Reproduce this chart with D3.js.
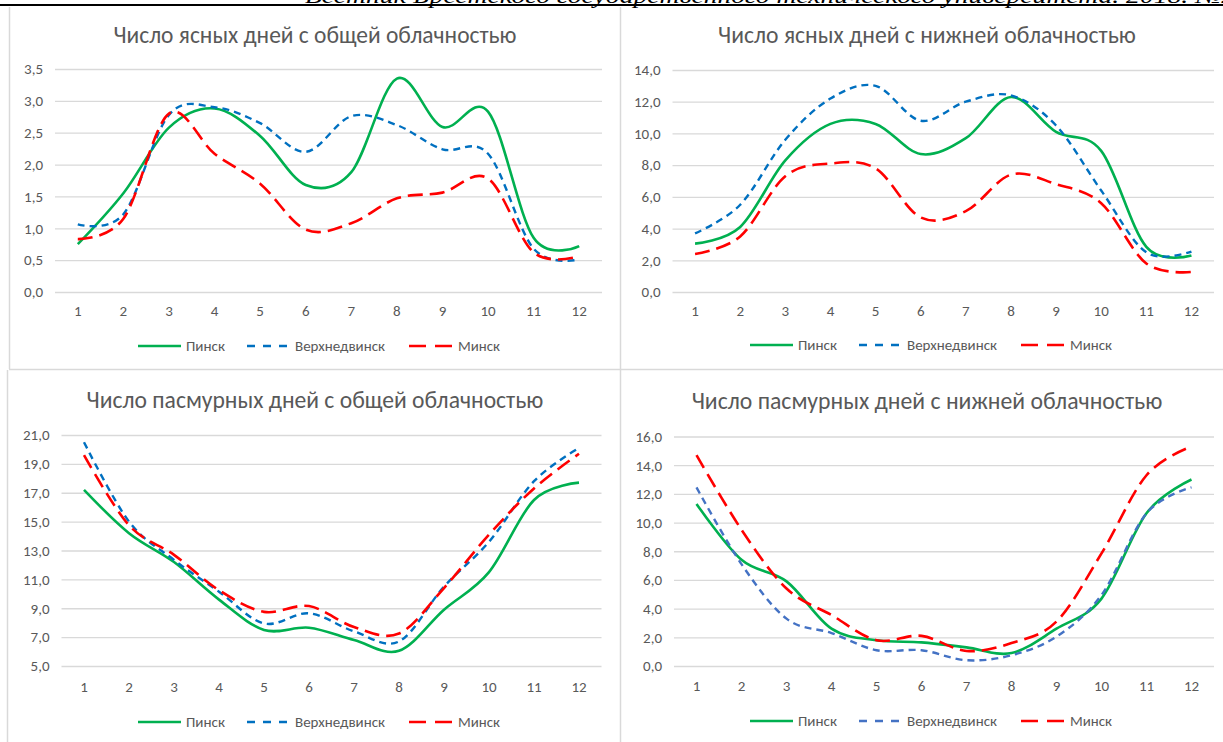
<!DOCTYPE html>
<html>
<head>
<meta charset="utf-8">
<script src="https://cdn.jsdelivr.net/npm/d3@7"></script>
<style>
  html, body { margin: 0; padding: 0; background: #ffffff; }
  svg { display: block; }
  text { font-family: Carlito, Calibri, Lato, "Open Sans", sans-serif; }
</style>
</head>
<body>
<svg id="chart" width="1223" height="742"></svg>
<script>
// ---- Data ----
const months = ["1","2","3","4","5","6","7","8","9","10","11","12"];
const seriesNames = ["Пинск", "Верхнедвинск", "Минск"];
const headerText = "Вестник Брестского государственного технического университета. 2018. №2";

const titles = [
  "Число ясных дней с общей облачностью",
  "Число ясных дней с нижней облачностью",
  "Число пасмурных дней с общей облачностью",
  "Число пасмурных дней с нижней облачностью"
];

// Panel 1: clear days, total cloudiness
const clearTotalPinsk = [0.75, 1.55, 2.58, 2.88, 2.45, 1.68, 1.88, 3.35, 2.59, 2.83, 0.85, 0.72];
const clearTotalVerkh = [1.06, 1.22, 2.78, 2.9, 2.65, 2.2, 2.76, 2.62, 2.24, 2.17, 0.68, 0.51];
const clearTotalMinsk = [0.83, 1.15, 2.8, 2.17, 1.7, 0.98, 1.08, 1.47, 1.56, 1.78, 0.62, 0.56];
const clearTotalTicks = [0, 0.5, 1, 1.5, 2, 2.5, 3, 3.5];

// Panel 2: clear days, low cloudiness
const clearLowPinsk = [3.05, 4.1, 8.3, 10.6, 10.6, 8.7, 9.7, 12.3, 10.1, 8.9, 2.85, 2.3];
const clearLowVerkh = [3.7, 5.5, 9.6, 12.2, 13.0, 10.8, 12.0, 12.4, 10.5, 6.4, 2.5, 2.55];
const clearLowMinsk = [2.4, 3.5, 7.3, 8.1, 7.8, 4.7, 5.1, 7.4, 6.8, 5.6, 1.8, 1.26];
const clearLowTicks = [0, 2, 4, 6, 8, 10, 12, 14];

// Panel 3: overcast days, total cloudiness
const overTotalPinsk = [17.2, 14.2, 12.2, 9.6, 7.5, 7.65, 6.8, 6.05, 8.9, 11.5, 16.5, 17.7];
const overTotalVerkh = [20.5, 15.0, 12.35, 10.15, 7.95, 8.65, 7.4, 6.7, 10.5, 13.6, 17.8, 20.1];
const overTotalMinsk = [19.6, 14.75, 12.7, 10.25, 8.75, 9.15, 7.7, 7.25, 10.4, 14.1, 17.3, 19.7];
const overTotalTicks = [5, 7, 9, 11, 13, 15, 17, 19, 21];

// Panel 4: overcast days, low cloudiness
const overLowPinsk = [11.3, 7.4, 5.9, 2.6, 1.8, 1.65, 1.3, 0.9, 2.6, 4.7, 10.65, 13.0];
const overLowVerkh = [12.45, 7.1, 3.3, 2.3, 1.1, 1.1, 0.4, 0.75, 2.05, 4.95, 10.65, 12.45];
const overLowMinsk = [14.7, 9.5, 5.4, 3.55, 1.8, 2.1, 1.05, 1.6, 3.1, 7.85, 13.3, 15.3];
const overLowTicks = [0, 2, 4, 6, 8, 10, 12, 14, 16];

// ---- Layout / style ----
const colors = {green: "#00B050", blue: "#0070C0", blue2: "#4472C4", red: "#FF0000"};
const panels = [
  {title: titles[0], series: [clearTotalPinsk, clearTotalVerkh, clearTotalMinsk], ticks: clearTotalTicks,
   x0: 55, x1: 602, yTop: 69, yBot: 292, cx: 315, ty: 35, titleW: 403, ly: 346, xl: 311, blue: colors.blue},
  {title: titles[1], series: [clearLowPinsk, clearLowVerkh, clearLowMinsk], ticks: clearLowTicks,
   x0: 672.5, x1: 1214, yTop: 70, yBot: 292, cx: 927, ty: 35, titleW: 418, ly: 345, xl: 311, blue: colors.blue},
  {title: titles[2], series: [overTotalPinsk, overTotalVerkh, overTotalMinsk], ticks: overTotalTicks,
   x0: 61.5, x1: 601.5, yTop: 435, yBot: 666, cx: 315, ty: 400, titleW: 457, ly: 722, xl: 687, blue: colors.blue},
  {title: titles[3], series: [overLowPinsk, overLowVerkh, overLowMinsk], ticks: overLowTicks,
   x0: 674, x1: 1214, yTop: 436.5, yBot: 666, cx: 927, ty: 401, titleW: 471, ly: 721, xl: 686, blue: colors.blue2}
];
// legend offsets from panel centre: line start, text start, text width
const legendLayout = [
  {line: -177, text: -129, w: 39},
  {line: -68, text: -20, w: 90},
  {line: 94, text: 143, w: 42}
];

const svg = d3.select("#chart");
svg.append("rect").attr("width", 1223).attr("height", 742).attr("fill", "#fff");

// Header (cut off at the top edge, as in the reference)
svg.append("text")
  .attr("x", 305).attr("y", 3)
  .attr("textLength", 930).attr("lengthAdjust", "spacingAndGlyphs")
  .style("font-family", "'Liberation Serif', serif")
  .style("font-style", "italic")
  .style("font-size", "22px")
  .attr("fill", "#000")
  .text(headerText);
svg.append("line").attr("x1", 0).attr("x2", 1223).attr("y1", 5).attr("y2", 5)
  .attr("stroke", "#000").attr("stroke-width", 2);

// Panel borders
const borderColor = "#d9d9d9";
const borders = [
  [9.5, 7, 9.5, 369], [620.5, 7, 620.5, 742], [9, 369.5, 1223, 369.5], [7.5, 370, 7.5, 742]
];
svg.selectAll("line.border").data(borders).enter().append("line")
  .attr("class", "border")
  .attr("x1", d => d[0]).attr("y1", d => d[1]).attr("x2", d => d[2]).attr("y2", d => d[3])
  .attr("stroke", borderColor).attr("stroke-width", 1.5);

const fmt = v => d3.format(".1f")(v).replace(".", ",");
const textColor = "#595959";
const smallFont = "15px";

panels.forEach(p => {
  const g = svg.append("g");
  const x = d3.scaleBand().domain(months).range([p.x0, p.x1]).padding(0);
  const y = d3.scaleLinear().domain([p.ticks[0], p.ticks[p.ticks.length - 1]]).range([p.yBot, p.yTop]);

  // Y axis + gridlines
  const ya = g.append("g").attr("transform", `translate(${p.x0},0)`)
    .call(d3.axisLeft(y).tickValues(p.ticks).tickFormat(fmt).tickSize(-(p.x1 - p.x0)).tickPadding(12));
  ya.select(".domain").remove();
  ya.selectAll(".tick line").attr("stroke", "#d9d9d9").attr("stroke-width", 1.3);
  ya.selectAll(".tick text").attr("fill", textColor).style("font-size", smallFont)
    .style("font-family", "Carlito, Calibri, Lato, sans-serif");

  // X axis labels
  const xa = g.append("g").attr("transform", `translate(0,${p.yBot})`)
    .call(d3.axisBottom(x).tickSize(0).tickPadding(p.xl - p.yBot - 5.5));
  xa.select(".domain").remove();
  xa.selectAll(".tick text").attr("fill", textColor).style("font-size", smallFont)
    .style("font-family", "Carlito, Calibri, Lato, sans-serif");

  // Title
  const t = g.append("text").attr("x", p.cx).attr("y", p.ty).attr("dy", "0.35em")
    .attr("text-anchor", "middle").attr("fill", textColor).style("font-size", "19px").text(p.title);
  const w = t.node().getComputedTextLength();
  if (w > 0) t.style("font-size", (19 * p.titleW / w).toFixed(2) + "px");

  // Lines
  const styles = [
    {color: colors.green, dash: null, width: 2.6},
    {color: p.blue, dash: "7,5", width: 2.4},
    {color: colors.red, dash: "15,7", width: 2.6}
  ];
  const line = d3.line()
    .x((d, i) => x(months[i]) + x.bandwidth() / 2)
    .y(d => y(d))
    .curve(d3.curveCatmullRom.alpha(0));
  p.series.forEach((s, k) => {
    g.append("path").attr("d", line(s)).attr("fill", "none")
      .attr("stroke", styles[k].color).attr("stroke-width", styles[k].width)
      .attr("stroke-dasharray", styles[k].dash);
  });

  // Legend
  const lg = g.append("g");
  seriesNames.forEach((n, k) => {
    const L = legendLayout[k];
    lg.append("line").attr("x1", p.cx + L.line).attr("x2", p.cx + L.line + 43)
      .attr("y1", p.ly).attr("y2", p.ly)
      .attr("stroke", styles[k].color).attr("stroke-width", 2.6)
      .attr("stroke-dasharray", k === 1 ? "8,8" : (k === 2 ? "17,9" : null));
    const tx = lg.append("text").attr("x", p.cx + L.text).attr("y", p.ly).attr("dy", "0.35em")
      .attr("fill", textColor).style("font-size", "14px").text(n);
    const tw = tx.node().getComputedTextLength();
    if (tw > 0) tx.style("font-size", (14 * L.w / tw).toFixed(2) + "px");
  });
});
</script>
</body>
</html>
